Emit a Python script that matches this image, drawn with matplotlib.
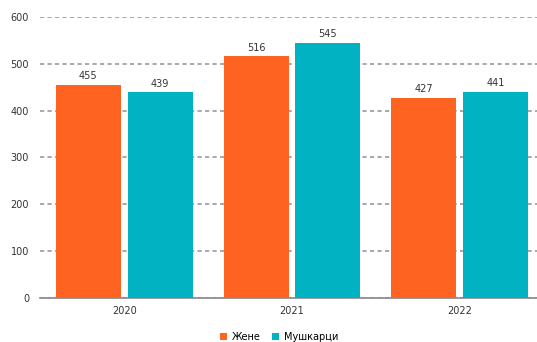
import numpy as np
import matplotlib.pyplot as plt

years = ["2020", "2021", "2022"]
zene = [455, 516, 427]
muskarci = [439, 545, 441]
series_names = ["Жене", "Мушкарци"]

orange = "#FF6321"
teal = "#00B2C2"

fig = plt.figure(figsize=(5.37, 3.42), dpi=100)
ax = fig.add_axes([0.075, 0.129, 0.925, 0.821])

x = np.arange(len(years))
w = 0.387
b1 = ax.bar(x - 0.214, zene, width=w, color=orange, label=series_names[0], zorder=3)
b2 = ax.bar(x + 0.214, muskarci, width=w, color=teal, label=series_names[1], zorder=3)

for bars in (b1, b2):
    for r in bars:
        ax.text(r.get_x() + r.get_width() / 2, r.get_height() + 8, str(int(r.get_height())),
                ha="center", va="bottom", fontsize=7, color="#333333")

ax.set_ylim(0, 600)
ax.set_xlim(-0.5, 2.46)
ax.set_yticks(range(0, 601, 100))
ax.set_xticks(x)
ax.set_xticklabels(years)
ax.tick_params(axis="both", length=0, labelsize=7, colors="#333333")
ax.tick_params(axis="y", pad=8)
ax.tick_params(axis="x", pad=6)
ax.grid(axis="y", color="#999999", linestyle=(0, (2.5, 2)), linewidth=1.2, zorder=0)
for s in ["top", "right", "left"]:
    ax.spines[s].set_visible(False)
ax.spines["bottom"].set_color("#888888")
ax.spines["bottom"].set_linewidth(1.2)

fig.legend(loc="lower center", bbox_to_anchor=(0.52, -0.025), ncol=2, frameon=False,
           fontsize=7, handlelength=0.7, handleheight=0.7, handletextpad=0.5, columnspacing=1.2)

fig.savefig("out.png", dpi=100)
